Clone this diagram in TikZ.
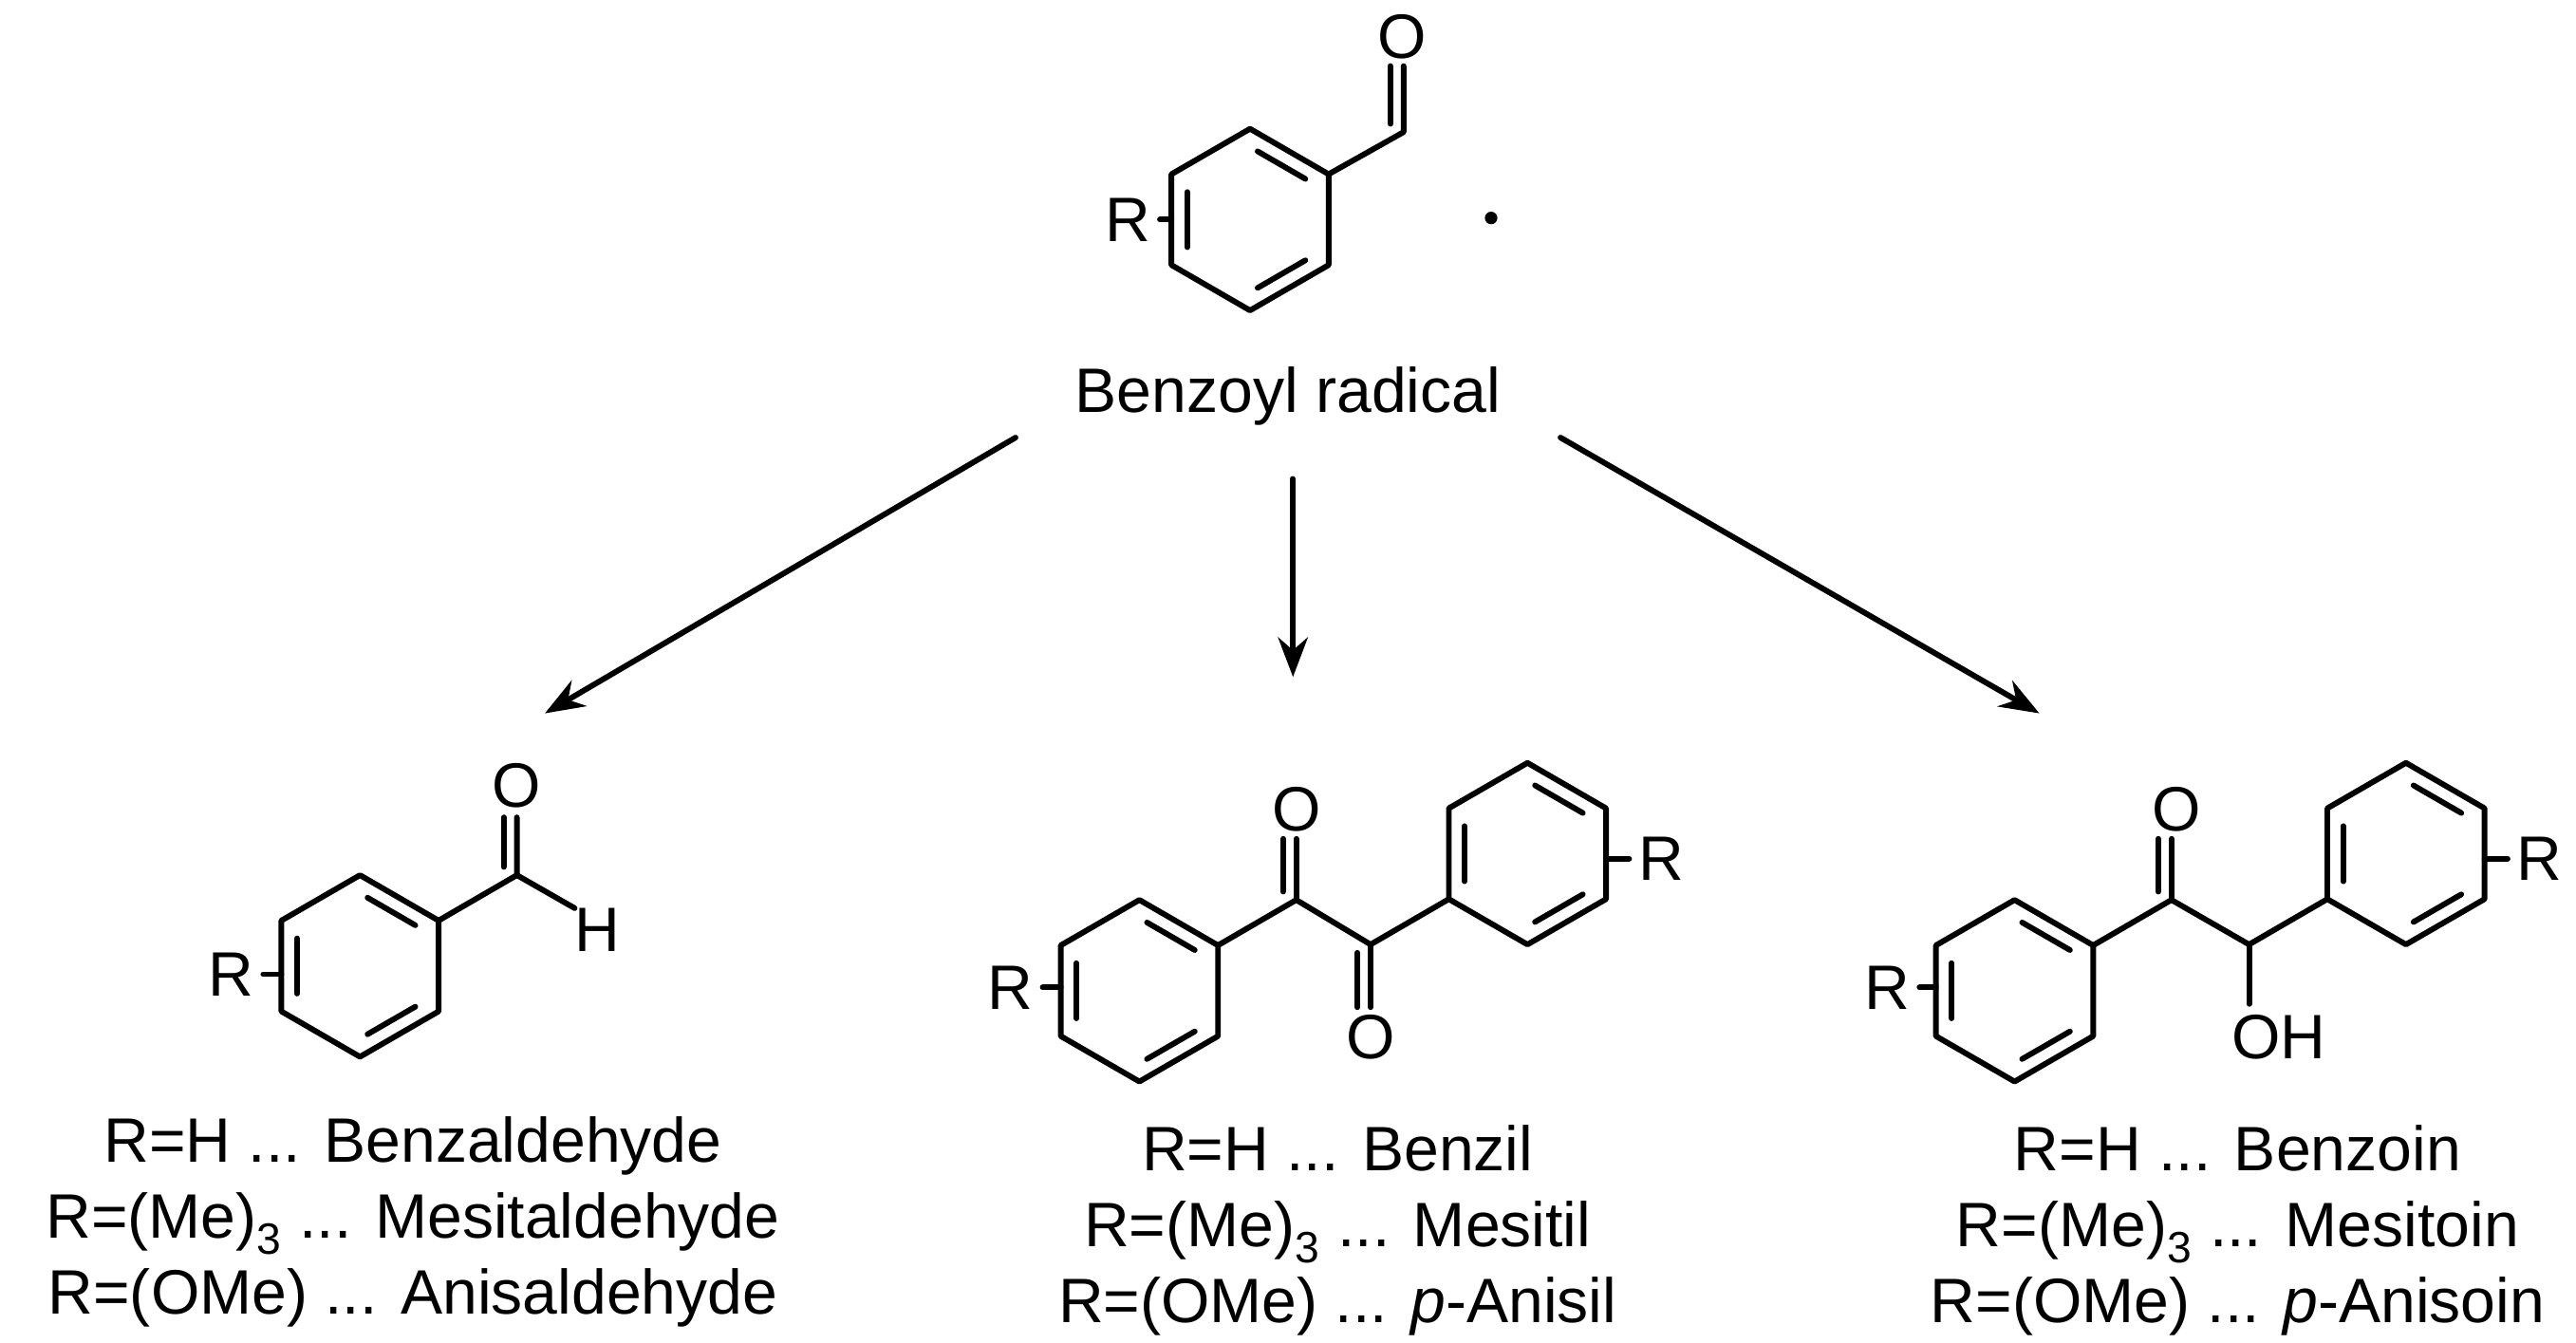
\documentclass[tikz,border=0pt]{standalone}
\usepackage{fontspec}
\setmainfont{Liberation Sans}
\usetikzlibrary{arrows.meta}
\begin{document}
\begin{tikzpicture}[x=1pt,y=-1pt,line width=3.4pt,
 lbl/.style={inner sep=0pt,font=\fontsize{38}{46}\selectfont},
 arr/.style={-{Stealth[length=24pt,width=18pt]}},
 line cap=round,line join=round]
\useasboundingbox (0,0) rectangle (1560,813);
\newcommand\kek[2]{%
 \foreach \a/\b in {90/30,-30/-90,-150/150}{
  \draw ({#1+44*cos(\a)+(44*cos(\b)-44*cos(\a))*0.12},{#2-44*sin(\a)-(44*sin(\b)-44*sin(\a))*0.12}) --
        ({#1+44*cos(\a)+(44*cos(\b)-44*cos(\a))*0.88},{#2-44*sin(\a)-(44*sin(\b)-44*sin(\a))*0.88});
 }}
\newcommand\ring[2]{%
 \draw (#1,#2-55) -- (#1+47.6,#2-27.5) -- (#1+47.6,#2+27.5) -- (#1,#2+55) -- (#1-47.6,#2+27.5) -- (#1-47.6,#2-27.5) -- cycle;
 \kek{#1}{#2}}
% benzoyl radical
\ring{757}{133}
\draw (804.6,105.5) -- (850,80) -- (850,40);
\draw (842,75) -- (842,40);
\node[lbl] (o0) at (849,22) {O};
\node[lbl] (r0) at (683,133) {R};
\coordinate (rb0) at (709.4,133);
\draw (r0.east) ++(4,0) -- (rb0);
\fill (903,132) circle (3.8);
\node[lbl] (t0) at (780,240) {Benzoyl radical};
\coordinate (a1) at (615,265); \coordinate (b1) at (330,432);
\coordinate (a2) at (783,290); \coordinate (b2) at (783,410);
\coordinate (a3) at (945,265); \coordinate (b3) at (1235,432);
\draw[arr] (a1) -- (b1); \draw[arr] (a2) -- (b2); \draw[arr] (a3) -- (b3);
% benzaldehyde
\ring{218}{585}
\draw (265.6,557.5) -- (313,530) -- (313,495);
\draw (305,525) -- (305,495);
\node[lbl] (o1) at (313,476) {O};
\draw (313,530) -- (348,550);
\node[lbl] (h1) at (362,563) {H};
\node[lbl] (r1) at (140,590) {R};
\draw (r1.east) ++(4,0) -- (170.4,590);
\node[lbl,align=center] (t1) at (250,740) {R=H ... Benzaldehyde\\R=(Me)\textsubscript{3} ... Mesitaldehyde\\R=(OMe) ... Anisaldehyde};
% benzil
\ring{690}{600}
\draw (737.6,572.5) -- (785,545) -- (830,572) -- (877.4,544.5);
\draw (785,545) -- (785,508); \draw (777,540) -- (777,508);
\node[lbl] (o2) at (785,490) {O};
\draw (830,572) -- (830,610); \draw (822,577) -- (822,610);
\node[lbl] (o3) at (830,628) {O};
\ring{925}{517}
\node[lbl] (r2) at (612,598) {R};
\draw (r2.east) ++(4,0) -- (642.4,598);
\node[lbl] (r3) at (1006,520) {R};
\draw (r3.west) ++(-4,0) -- (972.6,520);
\node[lbl,align=center] (t2) at (810,745) {R=H ... Benzil\\R=(Me)\textsubscript{3} ... Mesitil\\R=(OMe) ... \textit{p}-Anisil};
% benzoin
\ring{1220}{600}
\draw (1267.6,572.5) -- (1315,545) -- (1362,572) -- (1409.4,544.5);
\draw (1315,545) -- (1315,508); \draw (1307,540) -- (1307,508);
\node[lbl] (o4) at (1318,490) {O};
\draw (1362,572) -- (1362,608);
\node[lbl] (oh) at (1380,628) {OH};
\ring{1457}{517}
\node[lbl] (r4) at (1143,598) {R};
\draw (r4.east) ++(4,0) -- (1172.4,598);
\node[lbl] (r5) at (1538,520) {R};
\draw (r5.west) ++(-4,0) -- (1504.6,520);
\node[lbl,align=center] (t3) at (1355,745) {R=H ... Benzoin\\R=(Me)\textsubscript{3} ... Mesitoin\\R=(OMe) ... \textit{p}-Anisoin};
\end{tikzpicture}
\end{document}
